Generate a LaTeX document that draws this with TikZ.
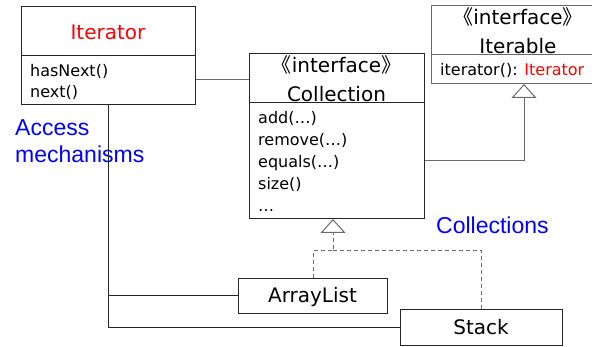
\documentclass[tikz,border=0pt]{standalone}
\usepackage{fontspec}
\setmainfont{DejaVu Sans}
\newfontfamily\cjkfont{Noto Sans CJK SC}
\newfontfamily\labelfont{Liberation Sans}
\usetikzlibrary{arrows.meta}
\definecolor{umlred}{HTML}{FF0000}
\definecolor{umlblue}{HTML}{0000FF}
\definecolor{edge}{HTML}{6A6A6A}
\newcommand\stereotype[1]{{\cjkfont 《}#1{\cjkfont 》}}

\begin{document}
\begin{tikzpicture}[x=1pt,y=-1pt,
  frame/.style={draw=black!85, line width=1pt, inner sep=0pt, anchor=north west},
  grayframe/.style={frame, draw=edge},
  member/.style={inner sep=0pt, anchor=base west, font=\fontsize{16}{19}\selectfont},
  title/.style={inner sep=0pt, anchor=base, font=\fontsize{20}{24}\selectfont},
  note/.style={inner sep=0pt, anchor=base west, text=umlblue,
    font=\labelfont\fontsize{23}{27}\selectfont},
  assoc/.style={draw=black!85, line width=1pt},
  grayassoc/.style={draw=edge, line width=1pt},
  realize/.style={draw=edge, line width=1pt,
    -{Triangle[open, width=25pt, length=14pt, line width=1pt]}},
  dashedrealize/.style={realize, dash pattern=on 4pt off 3pt},
  dashedline/.style={draw=edge, line width=1pt, dash pattern=on 4pt off 3pt}]

\clip (0,0) rectangle (592,347);

% Iterator class
\node[frame, minimum width=174pt, minimum height=49pt] (itHead) at (21,6) {};
\node[frame, minimum width=174pt, minimum height=49pt] (itBody) at (21,55) {};
\node[title, text=umlred] (itName) at (108,40) {Iterator};
\node[member] (itM1) at (30,77) {hasNext()};
\node[member] (itM2) at (30,98) {next()};

% Collection interface
\node[frame, minimum width=175pt, minimum height=49pt] (colHead) at (249,53) {};
\node[frame, minimum width=175pt, minimum height=116pt] (colBody) at (249,102) {};
\node[title] (colStereo) at (336.5,73) {\stereotype{interface}};
\node[title] (colName) at (336.5,102) {Collection};
\node[member] (colM1) at (258,124) {add(…)};
\node[member] (colM2) at (258,146) {remove(…)};
\node[member] (colM3) at (258,168) {equals(…)};
\node[member] (colM4) at (258,190) {size()};
\node[member] (colM5) at (258,212) {…};

% Iterable interface
\node[grayframe, minimum width=174pt, minimum height=49pt] (iterHead) at (431,5) {};
\node[grayframe, minimum width=174pt, minimum height=29pt] (iterBody) at (431,54) {};
\node[title] (iterStereo) at (518,25) {\stereotype{interface}};
\node[title] (iterName) at (518,54) {Iterable};
\node[member] (iterM1) at (440,76) {iterator(): \textcolor{umlred}{Iterator}};

% Concrete classes
\node[frame, minimum width=149pt, minimum height=35pt] (alist) at (238,278) {};
\node[title] (alistName) at (312.5,303) {ArrayList};
\node[frame, minimum width=162pt, minimum height=36pt] (stack) at (400,309) {};
\node[title] (stackName) at (481,335) {Stack};

% Group labels
\node[note] (accessA) at (15,136) {Access};
\node[note] (accessB) at (15,163) {mechanisms};
\node[note] (colls) at (436,234) {Collections};

% Connector end points
\coordinate (iterTip) at (524,84);
\coordinate (colTip) at (333,219);
\coordinate (join) at (333,251);

% Associations
\draw[grayassoc] (itBody.east) -- (itBody.east -| colHead.west);
\draw[assoc] (itBody.south) |- (alist.west);
\draw[assoc] (itBody.south) |- (stack.west);

% Generalisation / realisation
\draw[realize] (colBody.east) -| (iterTip);
\draw[dashedrealize] (alist.north) |- (join) -- (colTip);
\draw[dashedline] (stack.north) |- (join);
\end{tikzpicture}
\end{document}
